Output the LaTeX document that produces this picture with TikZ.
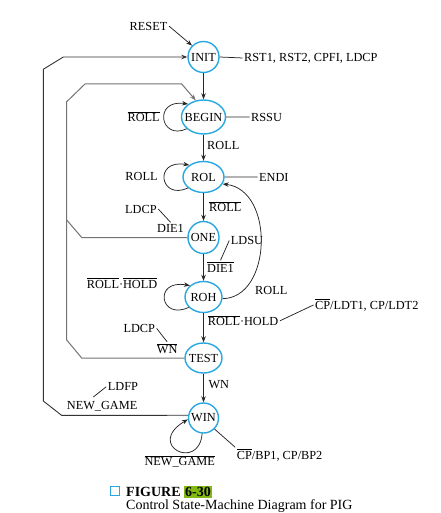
\documentclass[tikz,border=0pt]{standalone}
\usepackage{fontspec}
\setmainfont{Liberation Serif}
\usetikzlibrary{arrows.meta,shapes.geometric}
\definecolor{stateblue}{RGB}{41,168,224}
\definecolor{figgreen}{RGB}{130,185,20}
\newcommand{\obar}[1]{\ensuremath{\overline{\mbox{#1}}}}
\newcommand{\lblfont}{\fontsize{12.3}{14}\selectfont}
\begin{document}
\begin{tikzpicture}[x=1pt,y=-1pt,
  st/.style={ellipse, draw=stateblue, line width=1.4pt, inner sep=0pt, fill=white, font=\lblfont},
  lbl/.style={anchor=base west, inner sep=1.5pt, font=\lblfont},
  arr/.style={-{Stealth[length=6pt,width=4.5pt]}},
  ln/.style={line width=0.75pt, black!85},
  outerln/.style={line width=0.9pt, black!80},
  innerln/.style={line width=1pt, black!55}]
\useasboundingbox (0,0) rectangle (440,513);

% states
\node[st, minimum width=31pt, minimum height=31pt] (init) at (203.5,57) {\makebox[0pt]{INIT}};
\node[st, minimum width=44pt, minimum height=34pt] (begin) at (203.5,117) {\makebox[0pt]{BEGIN}};
\node[st, minimum width=41pt, minimum height=31pt] (rol) at (203.5,177) {\makebox[0pt]{ROL}};
\node[st, minimum width=31pt, minimum height=32pt] (one) at (203.5,237.5) {\makebox[0pt]{ONE}};
\node[st, minimum width=37pt, minimum height=31pt] (roh) at (203.5,297) {\makebox[0pt]{ROH}};
\node[st, minimum width=37pt, minimum height=30pt] (test) at (203.5,358) {\makebox[0pt]{TEST}};
\node[st, minimum width=30pt, minimum height=30pt] (win) at (203.5,418) {\makebox[0pt]{WIN}};

% labels
\node[lbl, anchor=base] (reset) at (148.5,30.1) {RESET};
\node[lbl] (rst) at (242.5,61.1) {RST1, RST2, CPFI, LDCP};
\node[lbl] (rssu) at (249.5,121.1) {RSSU};
\node[lbl, anchor=base] (nrollA) at (143.7,121.4) {\obar{ROLL}};
\node[lbl] (rollA) at (205.5,149.1) {ROLL};
\node[lbl, anchor=base] (rollB) at (141.5,180.1) {ROLL};
\node[lbl] (endi) at (257.5,181.1) {ENDI};
\node[lbl] (nrollB) at (207.5,211.3) {\obar{ROLL}};
\node[lbl] (ldcpA) at (123.5,213.1) {LDCP};
\node[lbl] (dieA) at (155.5,232.1) {DIE1};
\node[lbl] (ldsu) at (229.2,244.6) {LDSU};
\node[lbl] (ndie) at (205.5,272.1) {\obar{DIE1}};
\node[lbl] (nrnh) at (85.2,288.1) {\obar{ROLL}\textperiodcentered\obar{HOLD}};
\node[lbl] (rollC) at (253.5,294.1) {ROLL};
\node[lbl] (nrh) at (206.2,325.8) {\obar{ROLL}\textperiodcentered HOLD};
\node[lbl] (cpl) at (313.5,309.1) {\obar{CP}/LDT1, CP/LDT2};
\node[lbl] (ldcpB) at (121.8,332.4) {LDCP};
\node[lbl] (nwn) at (155.2,353.6) {\obar{WN}};
\node[lbl] (wn) at (206.8,388.1) {WN};
\node[lbl] (ldfp) at (106.2,390.8) {LDFP};
\node[lbl] (ng) at (65.2,409.1) {NEW\_GAME};
\node[lbl] (cpb) at (235.2,459.1) {\obar{CP}/BP1, CP/BP2};
\node[lbl] (nng) at (142.8,465.6) {\obar{NEW\_GAME}};

% bend coordinates
\coordinate (o1) at (61.7,415.4);
\coordinate (o2) at (43.3,401);
\coordinate (o3) at (43.3,69.3);
\coordinate (o4) at (63.3,57);
\coordinate (i1) at (81.7,358);
\coordinate (i2) at (66.7,340);
\coordinate (i3) at (66.7,101.7);
\coordinate (i4) at (85,84);
\coordinate (i5) at (181.7,84);
\coordinate (j1) at (81.7,237.5);
\coordinate (j2) at (66.7,220);
\coordinate (ldfpend) at (93.3,397);

% main arrows
\draw[ln,arr] (init.south) -- (begin.north);
\draw[ln,arr] (begin.south) -- (rol.north);
\draw[ln,arr] (rol.south) -- (one.north);
\draw[ln,arr] (one.south) -- (roh.north);
\draw[ln,arr] (roh.south) -- (test.north);
\draw[ln,arr] (test.south) -- (win.north);
\draw[ln,arr] (reset.east) -- (init.135);

% outputs
\draw[ln] (init.east) -- (rst.west);
\draw[ln] (begin.east) -- (rssu.west);
\draw[ln] (rol.east) -- (endi.west);
\draw[ln] (ldcpA.east) -- (dieA.north);
\draw[ln] (ldsu.west) -- (ndie.north);
\draw[ln] (nrh.east) -- (cpl.west);
\draw[ln] (ldcpB.east) -- (nwn.north);
\draw[ln] (ldfp.west) -- (ldfpend);
\draw[ln] (win.-45) -- (cpb.north west);

% long return paths
\draw[outerln,arr] (win.170) -- (o1) -- (o2) -- (o3) -- (o4) -- (init.west);
\draw[innerln,arr] (test.west) -- (i1) -- (i2) -- (i3) -- (i4) -- (i5) -- (begin.115);
\draw[innerln] (one.west) -- (j1) -- (j2);

% self loops
\draw[ln,arr] (begin.215) .. controls (160,141) and (153,99) .. (begin.140);
\draw[ln,arr] (rol.215) .. controls (160,201) and (153,159) .. (rol.140);
\draw[ln,arr] (roh.215) .. controls (160,321) and (153,279) .. (roh.140);
\draw[ln,arr] (win.265) .. controls (199,472) and (145,445) .. (win.185);

% ROH -> ROL
\draw[ln,arr] (roh.-5) .. controls (272,298) and (275,190) .. (rol.-20);

% caption
\node[draw=stateblue, line width=1pt, minimum size=9pt, inner sep=0pt] (capbox) at (114.5,491.3) {};
\node[anchor=base west, inner sep=0pt, font=\bfseries\fontsize{14}{16}\selectfont] (fig) at (126,496.5) {FIGURE \setlength{\fboxsep}{1pt}\colorbox{figgreen}{6-30}};
\node[anchor=base west, inner sep=0pt, font=\fontsize{14}{16}\selectfont] (cap) at (126,509.5) {Control State-Machine Diagram for PIG};
\end{tikzpicture}
\end{document}
